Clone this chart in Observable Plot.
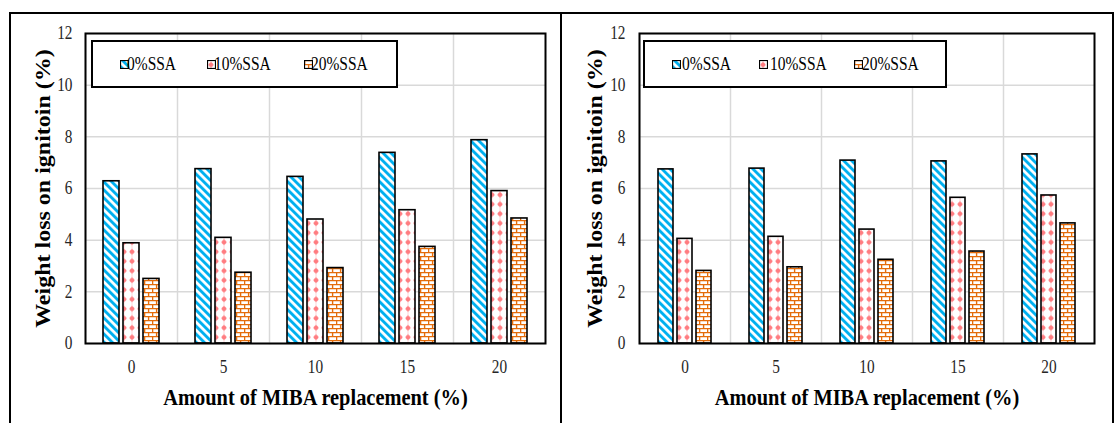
<!DOCTYPE html>
<html><head><meta charset="utf-8">
<script src="https://cdn.jsdelivr.net/npm/d3@7"></script>
<script src="https://cdn.jsdelivr.net/npm/@observablehq/plot@0.6"></script>
<style>
body{margin:0;background:#fff;}
#wrap{position:relative;width:1114px;height:423px;overflow:hidden;background:#fff;font-family:"Liberation Serif","DejaVu Serif",serif;}
.chart{position:absolute;top:0;}
.box{position:absolute;border:2px solid #000;box-sizing:border-box;}
.legend{position:absolute;background:#fff;border:2px solid #000;box-sizing:border-box;}
.sw{position:absolute;width:9px;height:9px;}
.lt{position:absolute;font-size:18px;line-height:18px;color:#000;transform:scaleX(0.86);transform-origin:left center;white-space:nowrap;font-family:"Liberation Serif","DejaVu Serif",serif;}
</style>
</head><body>
<div id="wrap"></div>
<script>
// ---- data ----
const categories = ["0", "5", "10", "15", "20"];
const series = ["0%SSA", "10%SSA", "20%SSA"];
const yTicks = [0, 2, 4, 6, 8, 10, 12];
const xTitle = "Amount of MIBA replacement (%)";
const yTitle = "Weight loss on ignitoin (%)";

const leftSSA0  = [6.28, 6.75, 6.45, 7.38, 7.87];
const leftSSA10 = [3.88, 4.09, 4.80, 5.16, 5.90];
const leftSSA20 = [2.50, 2.74, 2.92, 3.74, 4.84];

const rightSSA0  = [6.74, 6.77, 7.08, 7.05, 7.32];
const rightSSA10 = [4.05, 4.13, 4.41, 5.64, 5.73];
const rightSSA20 = [2.81, 2.95, 3.24, 3.56, 4.65];

const NS = "http://www.w3.org/2000/svg";
const FONT = '"Liberation Serif","DejaVu Serif",serif';

function patternDefs(p) {
  const cx = 4, cy = 4.75;
  return `
  <pattern id="${p}-blue" patternUnits="userSpaceOnUse" width="5.66" height="5.66" patternTransform="rotate(-45)">
    <rect width="5.66" height="5.66" fill="#fff"/>
    <rect width="2.9" height="5.66" fill="#00B0F0"/>
  </pattern>
  <pattern id="${p}-pink" patternUnits="userSpaceOnUse" width="8" height="9.5">
    <rect width="8" height="9.5" fill="#fff"/>
    <path d="M${cx},0V9.5" stroke="#FF7C80" stroke-width="0.9" stroke-opacity="0.35"/>
    <path d="M${cx},${cy - 3.1}L${cx + 1.3},${cy - 1.3}L${cx + 3},${cy}L${cx + 1.3},${cy + 1.3}L${cx},${cy + 3.1}L${cx - 1.3},${cy + 1.3}L${cx - 3},${cy}L${cx - 1.3},${cy - 1.3}Z" fill="#FF7C80"/>
    <circle cx="${cx}" cy="${cy}" r="2.2" fill="#FF7C80"/>
  </pattern>
  <pattern id="${p}-brick" patternUnits="userSpaceOnUse" width="8" height="8">
    <rect width="8" height="8" fill="#fff"/>
    <path d="M0,0.6H8M0,4.6H8M0.6,0V4.6M4.6,4.6V8" stroke="#E46C0A" stroke-width="1.4"/>
  </pattern>`;
}

function squish(root, k) {
  root.querySelectorAll("text").forEach(t => {
    const tr = t.getAttribute("transform") || "";
    const rot = /rotate\(\s*-?90/.test(tr);
    if (rot) {
      t.setAttribute("transform", `${tr} scale(1,${k})`);
    } else {
      const x = parseFloat(t.getAttribute("x")) || 0;
      t.setAttribute("transform", `${tr} translate(${x},0) scale(${k},1) translate(${-x},0)`);
    }
  });
}

function makeChart(prefix, s0, s1, s2, opts) {
  const rows = [];
  [s0, s1, s2].forEach((vals, si) => vals.forEach((v, ci) => rows.push({cat: categories[ci], series: series[si], value: v})));
  const urls = [`url(#${prefix}-blue)`, `url(#${prefix}-pink)`, `url(#${prefix}-brick)`];
  const svg = Plot.plot({
    width: opts.width, height: 423,
    marginLeft: opts.ml, marginRight: opts.mr, marginTop: 33, marginBottom: 80,
    style: {fontFamily: FONT, fontSize: "18px", color: "#000", background: "transparent", overflow: "visible"},
    fx: {domain: categories, padding: 0, label: null, axis: null},
    x: {domain: series, paddingInner: 0.2, paddingOuter: 0.9, axis: null},
    y: {domain: [0, 12], axis: null},
    color: {domain: series, range: urls},
    marks: [
      Plot.gridY(yTicks, {stroke: "#d9d9d9", strokeOpacity: 1, strokeWidth: 1.5}),
      Plot.frame({anchor: "left", stroke: "#d9d9d9", strokeOpacity: 1, strokeWidth: 1.5}),
      Plot.barY(rows, {fx: "cat", x: "series", y: "value", fill: "series", stroke: "#000", strokeWidth: 1.6}),
      Plot.frame({facet: "super", stroke: "#000", strokeWidth: 2}),
      Plot.axisY(yTicks, {tickSize: 0, tickPadding: opts.tp, fontSize: 18, fill: "#262626", label: null, fontFamily: FONT}),
      Plot.axisFx({anchor: "bottom", tickSize: 0, tickPadding: 17, fontSize: 18, fill: "#262626", label: null, fontFamily: FONT}),
      Plot.text([xTitle], {frameAnchor: "bottom", lineAnchor: "middle", textAnchor: "middle", dy: 54, facet: "super", fontWeight: "bold", fontSize: 24, fill: "#000", fontFamily: FONT}),
      Plot.text([yTitle], {frameAnchor: "left", lineAnchor: "middle", textAnchor: "middle", rotate: -90, dx: opts.ydx, facet: "super", fontWeight: "bold", fontSize: 24, fill: "#000", fontFamily: FONT})
    ]
  });
  const defs = document.createElementNS(NS, "defs");
  defs.innerHTML = patternDefs(prefix);
  svg.insertBefore(defs, svg.firstChild);
  squish(svg, 0.85);
  return svg;
}

const wrap = document.getElementById("wrap");

const c1 = makeChart("L", leftSSA0, leftSSA10, leftSSA20, {width: 561, ml: 85, mr: 16, tp: 13, ydx: -42});
c1.classList.add("chart"); c1.style.left = "0px";
wrap.appendChild(c1);
const c2 = makeChart("R", rightSSA0, rightSSA10, rightSSA20, {width: 553, ml: 76, mr: 18, tp: 14, ydx: -44});
c2.classList.add("chart"); c2.style.left = "561px";
wrap.appendChild(c2);

// outer panel borders
const outer = document.createElement("div");
outer.className = "box";
Object.assign(outer.style, {left: "9px", top: "12px", width: "1105px", height: "420px"});
wrap.appendChild(outer);
const divider = document.createElement("div");
Object.assign(divider.style, {position: "absolute", left: "560px", top: "12px", width: "2px", height: "420px", background: "#000"});
wrap.appendChild(divider);

// legends
function legend(prefix, box, items) {
  const lg = document.createElement("div");
  lg.className = "legend";
  Object.assign(lg.style, {left: box[0] + "px", top: box[1] + "px", width: box[2] + "px", height: box[3] + "px"});
  wrap.appendChild(lg);
  const fills = [`url(#${prefix}-blue)`, `url(#${prefix}-pink)`, `url(#${prefix}-brick)`];
  series.forEach((s, i) => {
    const sw = document.createElementNS(NS, "svg");
    sw.setAttribute("class", "sw");
    sw.setAttribute("width", 9); sw.setAttribute("height", 9);
    sw.style.left = items[i][0] + "px"; sw.style.top = "60px";
    sw.innerHTML = `<rect x="0.5" y="0.5" width="8" height="8" fill="${fills[i]}" stroke="#000" stroke-width="1.2"/>`;
    wrap.appendChild(sw);
    const t = document.createElement("div");
    t.className = "lt";
    t.textContent = s;
    t.style.left = items[i][1] + "px"; t.style.top = "55px";
    wrap.appendChild(t);
  });
}
legend("L", [91, 40, 307, 48], [[120, 127], [207, 214], [304, 311]]);
legend("R", [643, 40, 304, 48], [[672, 682], [759, 770], [854, 862]]);
</script>
</body></html>
